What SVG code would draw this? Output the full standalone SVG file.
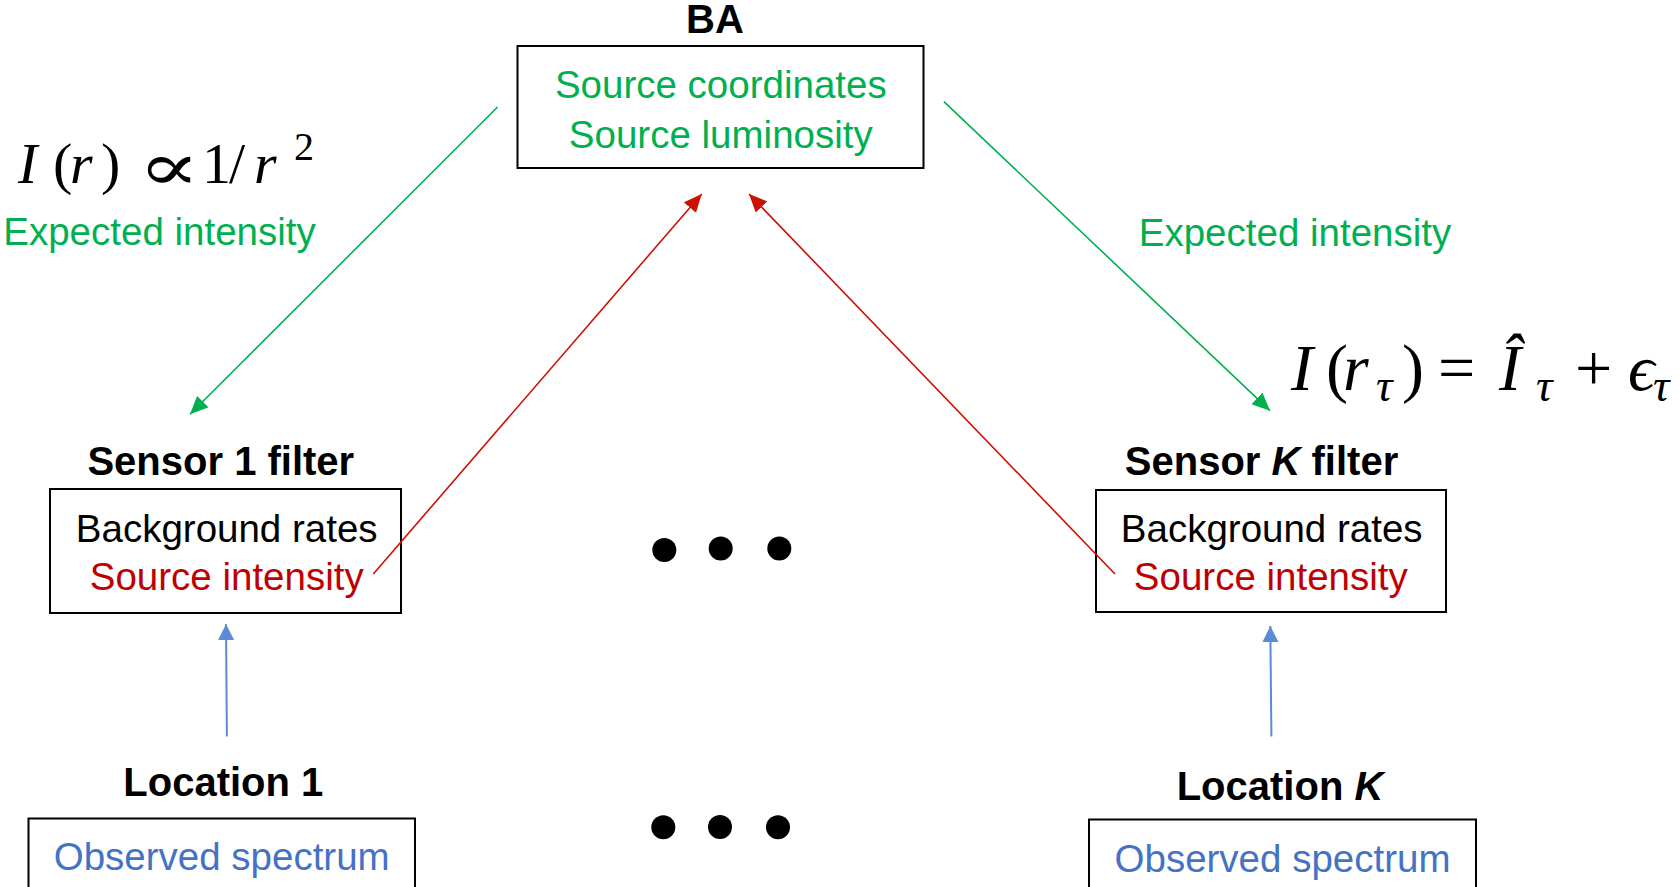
<svg xmlns="http://www.w3.org/2000/svg" width="1678" height="887" viewBox="0 0 1678 887">
  <style>
    .box { fill: none; stroke: #000000; stroke-width: 2; }
    .title { font-family: "Liberation Sans", Arial, sans-serif; font-weight: bold; font-size: 40px; fill: #000000; text-anchor: middle; }
    .body { font-family: "Liberation Sans", Arial, sans-serif; font-size: 38.5px; text-anchor: middle; }
    .green { fill: #00B050; }
    .red { fill: #C00000; }
    .blue { fill: #4472C4; }
    .black { fill: #000000; }
    .math { font-family: "Liberation Serif", "DejaVu Serif", serif; fill: #000000; }
    .it { font-style: italic; }
    .eg { stroke: #00B050; stroke-width: 1.6; fill: none; }
    .er { stroke: #CC1100; stroke-width: 1.6; fill: none; }
    .eb { stroke: #5B8BD6; stroke-width: 2; fill: none; }
  </style>
  <defs>
    <marker id="ahGreen" markerUnits="userSpaceOnUse" markerWidth="20" markerHeight="18" refX="18" refY="8" orient="auto">
      <path d="M0,0 L18,8 L0,16 Z" fill="#00B050"/>
    </marker>
    <marker id="ahRed" markerUnits="userSpaceOnUse" markerWidth="20" markerHeight="18" refX="18" refY="8" orient="auto">
      <path d="M0,0 L18,8 L0,16 Z" fill="#CC1100"/>
    </marker>
    <marker id="ahBlue" markerUnits="userSpaceOnUse" markerWidth="18" markerHeight="18" refX="16" refY="8" orient="auto">
      <path d="M0,0 L16,8 L0,16 Z" fill="#5B8BD6"/>
    </marker>
  </defs>

  <rect width="1678" height="887" fill="#ffffff"/>

  <!-- BA node -->
  <g id="node-ba">
    <text class="title" x="715" y="33" font-size="37">BA</text>
    <rect class="box" x="517.5" y="46" width="406" height="122"/>
    <text class="body green" x="720.8" y="98">Source coordinates</text>
    <text class="body green" x="720.8" y="148">Source luminosity</text>
  </g>

  <!-- Sensor 1 filter -->
  <g id="node-sensor-1">
    <text class="title" x="220.8" y="475">Sensor 1 filter</text>
    <rect class="box" x="50" y="489" width="351" height="124"/>
    <text class="body black" x="226.7" y="541.7">Background rates</text>
    <text class="body red" x="226.7" y="590">Source intensity</text>
  </g>

  <!-- Sensor K filter -->
  <g id="node-sensor-k">
    <text class="title" x="1261.5" y="475">Sensor <tspan font-style="italic">K</tspan> filter</text>
    <rect class="box" x="1096" y="490" width="350" height="122"/>
    <text class="body black" x="1271.7" y="541.7">Background rates</text>
    <text class="body red" x="1270.8" y="590">Source intensity</text>
  </g>

  <!-- Location 1 -->
  <g id="node-location-1">
    <text class="title" x="223.3" y="796">Location 1</text>
    <rect class="box" x="28.5" y="818.5" width="386.5" height="100"/>
    <text class="body blue" x="221.7" y="870">Observed spectrum</text>
  </g>

  <!-- Location K -->
  <g id="node-location-k">
    <text class="title" x="1280" y="800">Location <tspan font-style="italic">K</tspan></text>
    <rect class="box" x="1089" y="819.5" width="387" height="100"/>
    <text class="body blue" x="1282.5" y="871.7">Observed spectrum</text>
  </g>

  <!-- ellipses between sensors and locations -->
  <g id="ellipsis-sensors" fill="#000000">
    <circle cx="664.3" cy="550" r="12"/>
    <circle cx="720.7" cy="548.5" r="12"/>
    <circle cx="779.3" cy="548.5" r="12"/>
  </g>
  <g id="ellipsis-locations" fill="#000000">
    <circle cx="663.3" cy="827.3" r="12"/>
    <circle cx="720" cy="827" r="12"/>
    <circle cx="778" cy="827.3" r="12"/>
  </g>

  <!-- connectors -->
  <g id="connectors">
    <line class="eg" x1="497.6" y1="107" x2="190" y2="414.3" marker-end="url(#ahGreen)"/>
    <line class="eg" x1="943.9" y1="101.7" x2="1270" y2="410.7" marker-end="url(#ahGreen)"/>
    <line class="er" x1="373.3" y1="574" x2="701.7" y2="194" marker-end="url(#ahRed)"/>
    <line class="er" x1="1115" y1="574" x2="749" y2="194" marker-end="url(#ahRed)"/>
    <line class="eb" x1="226.9" y1="736.5" x2="226" y2="624" marker-end="url(#ahBlue)"/>
    <line class="eb" x1="1271.4" y1="736.5" x2="1270.3" y2="626" marker-end="url(#ahBlue)"/>
  </g>

  <!-- edge labels -->
  <g id="label-left">
    <text class="math" font-size="58"><tspan class="it" x="18" y="183">I</tspan><tspan x="53">(</tspan><tspan class="it" x="70">r</tspan><tspan x="101">)</tspan></text>
    <text class="math" font-size="54" transform="translate(138,190) scale(1.7,1.25)">∝</text>
    <text class="math" font-size="58"><tspan x="202" y="183">1</tspan><tspan x="229">/</tspan><tspan class="it" x="254">r</tspan><tspan font-size="40" x="294" y="160">2</tspan></text>
    <text class="body green" x="159.5" y="245">Expected intensity</text>
  </g>
  <g id="label-right">
    <text class="body green" x="1295" y="246">Expected intensity</text>
    <text class="math" font-size="66"><tspan class="it" x="1291" y="390">I</tspan><tspan x="1326">(</tspan><tspan class="it" x="1343">r</tspan><tspan class="it" font-size="46" x="1376" y="401">τ</tspan><tspan x="1402" y="390">)</tspan><tspan x="1438">=</tspan><tspan class="it" x="1499">Î</tspan><tspan class="it" font-size="46" x="1536" y="401">τ</tspan><tspan x="1575" y="390">+</tspan><tspan class="it" x="1628">ϵ</tspan><tspan class="it" font-size="46" x="1653" y="401">τ</tspan></text>
  </g>
</svg>
